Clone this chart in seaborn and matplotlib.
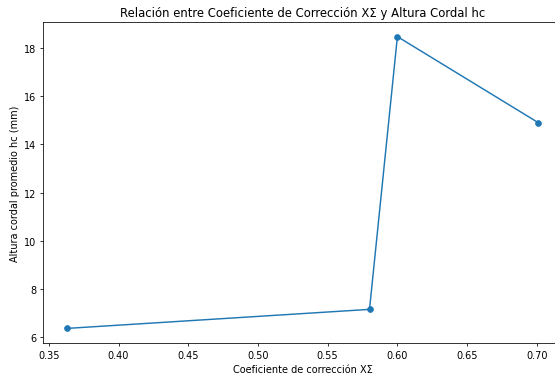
import matplotlib
matplotlib.use("Agg")
import matplotlib.pyplot as plt
import seaborn as sns
import pandas as pd

# Correction coefficient XΣ and mean chordal height hc (mm)
coef_x_sigma = [0.363, 0.580, 0.600, 0.701]
altura_hc = [6.36, 7.15, 18.47, 14.90]

df = pd.DataFrame({"coef": coef_x_sigma, "hc": altura_hc})

dpi = 70
fig = plt.figure(figsize=(555 / dpi, 376 / dpi), dpi=dpi)
ax = fig.add_axes([0.0782, 0.0851, 0.934, 0.8537])

sns.lineplot(data=df, x="coef", y="hc", ax=ax, sort=False, marker="o",
             color="#1f77b4", markeredgecolor="#1f77b4", markersize=6,
             linewidth=1.5)

ax.set_title("Relación entre Coeficiente de Corrección XΣ y Altura Cordal hc")
ax.set_xlabel("Coeficiente de corrección XΣ")
ax.set_ylabel("Altura cordal promedio hc (mm)")

fig.savefig("out.png", dpi=dpi)
